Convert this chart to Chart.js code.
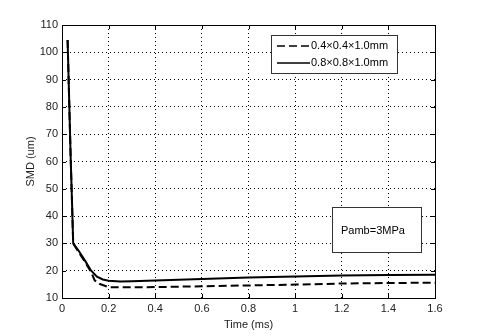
<!DOCTYPE html>
<html>
<head>
<meta charset="utf-8">
<script src="https://cdn.jsdelivr.net/npm/chart.js@4/dist/chart.umd.min.js"></script>
<style>
  html, body { margin: 0; padding: 0; background: #fff; }
  #wrap { width: 480px; height: 336px; position: relative; }
</style>
</head>
<body>
<div id="wrap"><canvas id="c" width="480" height="336" role="img" aria-label="SMD versus time for two grid sizes at Pamb=3MPa"></canvas></div>
<script>
// values
const seriesNames = ['0.4\u00d70.4\u00d71.0mm', '0.8\u00d70.8\u00d71.0mm']
const timeDashed = [0.024, 0.030, 0.037, 0.043, 0.048, 0.070, 0.100, 0.125, 0.140, 0.160, 0.200, 0.250, 0.400, 0.600, 0.800, 1.000, 1.200, 1.400, 1.600]
const smdDashed  = [104.5, 85, 62, 45, 30, 27, 23, 19.5, 16.5, 15.2, 14.0, 13.9, 14.0, 14.3, 14.6, 14.9, 15.3, 15.5, 15.6]
const timeSolid  = [0.024, 0.030, 0.037, 0.043, 0.048, 0.070, 0.100, 0.125, 0.150, 0.175, 0.200, 0.250, 0.300, 0.400, 0.600, 0.800, 1.000, 1.200, 1.400, 1.600]
const smdSolid   = [104.5, 85, 62, 45, 30, 27.5, 23.5, 20, 17.8, 16.8, 16.3, 16.0, 16.1, 16.4, 17.0, 17.5, 17.9, 18.2, 18.4, 18.5]
const xTicks = [0, 0.2, 0.4, 0.6, 0.8, 1, 1.2, 1.4, 1.6]
const yTicks = [10, 20, 30, 40, 50, 60, 70, 80, 90, 100, 110]
const noteText = 'Pamb=3MPa'

const FONT = 'Liberation Sans, Arial, sans-serif'

const pts = (xs, ys) => xs.map((x, i) => ({ x, y: ys[i] }))

// box, inner ticks, legend and the pressure note, MATLAB style
const frame = {
  id: 'frame',
  afterDraw(chart) {
    const { ctx, chartArea: a, scales } = chart
    ctx.save()
    ctx.strokeStyle = '#000'
    ctx.lineWidth = 1
    ctx.setLineDash([])
    ctx.beginPath()
    for (const t of xTicks) {
      const px = Math.round(scales.x.getPixelForValue(t)) + 0.5
      ctx.moveTo(px, a.bottom); ctx.lineTo(px, a.bottom - 4)
      ctx.moveTo(px, a.top); ctx.lineTo(px, a.top + 4)
    }
    for (const t of yTicks) {
      const py = Math.round(scales.y.getPixelForValue(t)) + 0.5
      ctx.moveTo(a.left, py); ctx.lineTo(a.left + 4, py)
      ctx.moveTo(a.right, py); ctx.lineTo(a.right - 4, py)
    }
    ctx.stroke()
    ctx.strokeRect(Math.round(a.left) + 0.5, Math.round(a.top) + 0.5, Math.round(a.right - a.left), Math.round(a.bottom - a.top))

    // legend
    const lx = 271, ly = 35, lw = 126, lh = 38
    ctx.fillStyle = '#fff'
    ctx.fillRect(lx, ly, lw, lh)
    ctx.strokeStyle = '#333'
    ctx.strokeRect(lx + 0.5, ly + 0.5, lw, lh)
    ctx.font = '11px ' + FONT
    ctx.fillStyle = '#000'
    ctx.textBaseline = 'middle'
    ctx.textAlign = 'left'
    chart.data.datasets.forEach((ds, i) => {
      const y = ly + 11 + i * 17
      ctx.strokeStyle = '#000'
      ctx.lineWidth = 1.6
      ctx.setLineDash(ds.borderDash || [])
      ctx.beginPath(); ctx.moveTo(277, y); ctx.lineTo(310, y); ctx.stroke()
      ctx.setLineDash([])
      ctx.fillText(ds.label, 311, y)
    })

    // note box
    ctx.fillStyle = '#fff'
    ctx.fillRect(332, 207, 89, 45)
    ctx.strokeStyle = '#333'
    ctx.lineWidth = 1
    ctx.strokeRect(332.5, 207.5, 89, 45)
    ctx.fillStyle = '#000'
    ctx.fillText(noteText, 341, 231)
    ctx.restore()
  }
}

const grid = {
  color: '#000',
  lineWidth: 1,
  drawTicks: false
}
const border = { display: false, dash: [1, 3] }

new Chart(document.getElementById('c'), {
  type: 'line',
  data: {
    datasets: [
      { label: seriesNames[0], data: pts(timeDashed, smdDashed), borderColor: '#000', borderWidth: 2, borderDash: [8, 4], pointRadius: 0, tension: 0 },
      { label: seriesNames[1], data: pts(timeSolid, smdSolid), borderColor: '#000', borderWidth: 2, pointRadius: 0, tension: 0 }
    ]
  },
  options: {
    responsive: false,
    animation: false,
    devicePixelRatio: 1,
    layout: { padding: { top: 25, right: 45, left: 24, bottom: 0 } },
    plugins: { legend: { display: false }, tooltip: { enabled: false } },
    scales: {
      x: {
        type: 'linear', min: 0, max: 1.6,
        afterBuildTicks: s => { s.ticks = xTicks.map(v => ({ value: v })) },
        afterFit: s => { s.height = 38 },
        grid,
        border,
        ticks: { color: '#222', font: { family: FONT, size: 11 }, padding: 4, maxRotation: 0, callback: v => String(v) },
        title: { display: true, text: 'Time (ms)', color: '#222', font: { family: FONT, size: 11 }, padding: { top: 0 } }
      },
      y: {
        min: 10, max: 110,
        afterBuildTicks: s => { s.ticks = yTicks.map(v => ({ value: v })) },
        afterFit: s => { s.width = 38 },
        grid,
        border,
        ticks: { color: '#222', font: { family: FONT, size: 11 }, padding: 4 },
        title: { display: true, text: 'SMD (um)', color: '#222', font: { family: FONT, size: 11 }, padding: { top: 0, bottom: 2 } }
      }
    }
  },
  plugins: [frame]
})
</script>
</body>
</html>
